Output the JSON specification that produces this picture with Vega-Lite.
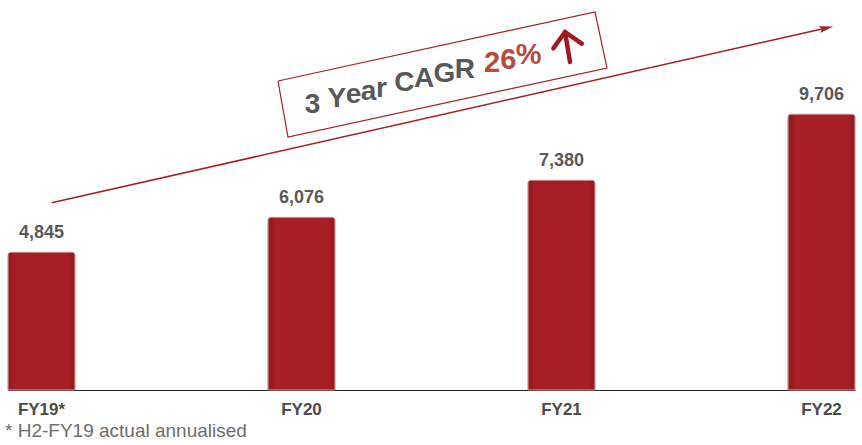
{
  "$schema": "https://vega.github.io/schema/vega-lite/v6.json",
  "width": 862,
  "height": 390,
  "autosize": {"type": "none"},
  "padding": {"left": 0, "right": 0, "top": 0, "bottom": 55},
  "background": "white",
  "config": {"view": {"stroke": null}},
  "title": {
    "text": "* H2-FY19 actual annualised",
    "orient": "bottom",
    "anchor": "start",
    "font": "Liberation Sans",
    "fontSize": 19,
    "fontWeight": "normal",
    "color": "#6d6d6d",
    "offset": 5,
    "dx": 5
  },
  "datasets": {
    "bars": [
      {"year": "FY19*", "value": 4845},
      {"year": "FY20", "value": 6076},
      {"year": "FY21", "value": 7380},
      {"year": "FY22", "value": 9706}
    ],
    "trend": [
      {"i": 0.0392, "v": 6593, "o": 1},
      {"i": 3.0181, "v": 12742, "o": 2}
    ],
    "head": [{"i": 3.0181, "v": 12742}],
    "box": [
      {"i": 0.9096, "v": 10877, "o": 1},
      {"i": 2.1288, "v": 13306, "o": 2},
      {"i": 2.175, "v": 11334, "o": 3},
      {"i": 0.948, "v": 8906, "o": 4},
      {"i": 0.9096, "v": 10877, "o": 5}
    ],
    "cagr": [
      {"i": 1.0423, "v": 10120, "t": "3"},
      {"i": 1.1357, "v": 10316, "t": "Y"},
      {"i": 1.1999, "v": 10451, "t": "e"},
      {"i": 1.2583, "v": 10574, "t": "a"},
      {"i": 1.308, "v": 10678, "t": "r"},
      {"i": 1.3955, "v": 10862, "t": "C"},
      {"i": 1.4713, "v": 11021, "t": "A"},
      {"i": 1.55, "v": 11187, "t": "G"},
      {"i": 1.6288, "v": 11352, "t": "R"}
    ],
    "pct": [
      {"i": 1.7327, "v": 11546, "t": "2"},
      {"i": 1.7954, "v": 11676, "t": "6"},
      {"i": 1.8738, "v": 11841, "t": "%"}
    ],
    "uparrow": [
      {"part": "shaft", "o": 1, "i": 2.0327, "v": 11546},
      {"part": "shaft", "o": 2, "i": 2.0135, "v": 12602},
      {"part": "head", "o": 1, "i": 1.9688, "v": 12028},
      {"part": "head", "o": 2, "i": 2.0135, "v": 12602},
      {"part": "head", "o": 3, "i": 2.0781, "v": 12193}
    ]
  },
  "layer": [
    {
      "data": {"name": "bars"},
      "encoding": {
        "x": {
          "field": "year",
          "type": "nominal",
          "sort": null,
          "scale": {"range": [8, 855], "paddingInner": 0.7423, "paddingOuter": 0},
          "axis": {
            "title": null,
            "ticks": false,
            "domainColor": "#222222",
            "domainWidth": 1,
            "labelAngle": 0,
            "labelFont": "Liberation Sans",
            "labelFontSize": 17,
            "labelFontWeight": "bold",
            "labelColor": "#4a4a4a",
            "labelPadding": 11
          }
        },
        "y": {
          "field": "value",
          "type": "quantitative",
          "scale": {"domain": [0, 13728], "nice": false},
          "axis": null
        }
      },
      "layer": [
        {
          "mark": {
            "type": "bar",
            "color": {
              "gradient": "linear",
              "x1": 0, "y1": 0, "x2": 1, "y2": 0,
              "stops": [
                {"offset": 0, "color": "#8e1a1f"},
                {"offset": 0.12, "color": "#a81e25"},
                {"offset": 0.88, "color": "#a81e25"},
                {"offset": 1, "color": "#8e1a1f"}
              ]
            },
            "stroke": "#c97a7c",
            "strokeWidth": 1,
            "cornerRadiusTopLeft": 3,
            "cornerRadiusTopRight": 3
          }
        },
        {
          "mark": {
            "type": "text",
            "font": "Liberation Sans",
            "fontSize": 18,
            "fontWeight": "bold",
            "color": "#595959",
            "baseline": "alphabetic",
            "dy": -14
          },
          "encoding": {"text": {"field": "value", "type": "quantitative", "format": ","}}
        }
      ]
    },
    {
      "encoding": {
        "x": {
          "field": "i",
          "type": "quantitative",
          "scale": {"domain": [-0.1596, 3.1558], "nice": false, "zero": false},
          "axis": null
        },
        "y": {
          "field": "v",
          "type": "quantitative",
          "scale": {"domain": [0, 13728], "nice": false},
          "axis": null
        }
      },
      "layer": [
        {
          "data": {"name": "trend"},
          "mark": {"type": "line", "color": "#A51E22", "strokeWidth": 1.5},
          "encoding": {"order": {"field": "o", "type": "quantitative"}}
        },
        {
          "data": {"name": "head"},
          "mark": {
            "type": "point",
            "shape": "M -1 -0.5 L 1 0 L -1 0.5 L -0.6 0 Z",
            "filled": true,
            "size": 196,
            "angle": 347.3,
            "color": "#A51E22",
            "opacity": 1
          },
          "encoding": {}
        },
        {
          "data": {"name": "box"},
          "mark": {"type": "line", "color": "#A51E22", "strokeWidth": 1.2},
          "encoding": {"order": {"field": "o", "type": "quantitative"}}
        },
        {
          "data": {"name": "cagr"},
          "mark": {
            "type": "text",
            "font": "Liberation Sans",
            "fontSize": 28,
            "fontWeight": "bold",
            "color": "#58585a",
            "align": "center",
            "baseline": "alphabetic",
            "dy": 10
          },
          "encoding": {"text": {"field": "t", "type": "nominal"}}
        },
        {
          "data": {"name": "pct"},
          "mark": {
            "type": "text",
            "font": "Liberation Sans",
            "fontSize": 29,
            "fontWeight": "bold",
            "color": "#B84A3E",
            "align": "center",
            "baseline": "alphabetic",
            "dy": 10.5
          },
          "encoding": {"text": {"field": "t", "type": "nominal"}}
        },
        {
          "data": {"name": "uparrow"},
          "mark": {"type": "line", "color": "#9E1B22", "strokeWidth": 4.5, "strokeCap": "round", "strokeJoin": "round"},
          "encoding": {
            "detail": {"field": "part"},
            "order": {"field": "o", "type": "quantitative"}
          }
        }
      ]
    }
  ],
  "resolve": {"scale": {"x": "independent"}}
}
